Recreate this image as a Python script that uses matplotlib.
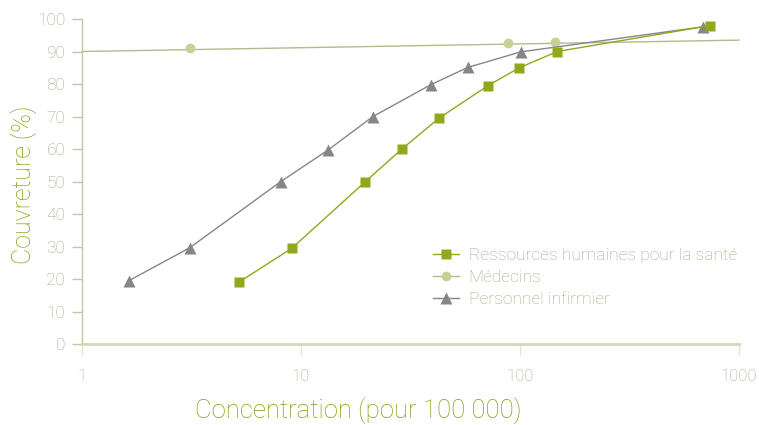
import matplotlib
matplotlib.use("Agg")
import matplotlib.pyplot as plt
from matplotlib.lines import Line2D

# concentration (per 100 000) vs coverage (%)
rhs_x = [5.2, 9.1, 19.7, 28.9, 42.7, 71.4, 99.3, 148, 739]
rhs_y = [19, 29.5, 50, 60, 69.5, 79.5, 85, 90, 98]

inf_x = [1.64, 3.1, 8.1, 13.3, 21.3, 39.2, 57.7, 101, 687]
inf_y = [19.5, 29.6, 50, 59.7, 70, 79.8, 85.1, 89.9, 97.6]

med_x = [3.11, 87.9, 145]
med_y = [91, 92.5, 92.9]
# straight trend through the doctors' points
med_trend_x = [1, 1000]
med_trend_y = [90, 93.5]

labels = ["Ressources humaines pour la santé", "Médecins", "Personnel infirmier"]
yticks = list(range(0, 101, 10))
xticks = [1, 10, 100, 1000]
xticklabels = ["1", "10", "100", "1000"]

GREEN = "#8fa81c"
LABEL = "#83a00c"
LIGHT = "#c6d097"
MEDLINE = "#b3ba8c"
GREY = "#86858a"
TICKTXT = "#a2a985"
AXIS = "#d3d8b6"

plt.rcParams["font.family"] = ["Roboto", "DejaVu Sans"]
plt.rcParams["font.weight"] = "light"
plt.rcParams["axes.labelweight"] = "light"

fig = plt.figure(figsize=(7.59, 4.25), dpi=100)
ax = fig.add_axes([82 / 759, 1 - 344 / 425, 657 / 759, 325 / 425])

ax.plot(med_trend_x, med_trend_y, color=MEDLINE, lw=1.0, clip_on=False, zorder=2)
ax.plot(med_x, med_y, "o", color=LIGHT, ms=7, mec="none", clip_on=False, zorder=3)
ax.plot(inf_x, inf_y, color=GREY, lw=1.0, marker="^", ms=8, mec="none",
        clip_on=False, zorder=4)
ax.plot(rhs_x, rhs_y, color=GREEN, lw=1.0, marker="s", ms=6.5, mec="none",
        clip_on=False, zorder=5)

ax.set_xscale("log")
ax.set_xlim(1, 1000)
ax.set_ylim(0, 100)
ax.set_xticks(xticks)
ax.set_xticklabels(xticklabels)
ax.xaxis.set_minor_locator(matplotlib.ticker.NullLocator())
ax.set_yticks(yticks)

for s in ["top", "right"]:
    ax.spines[s].set_visible(False)
ax.spines["left"].set_color("#c3c8a3")
ax.spines["left"].set_linewidth(1.0)
ax.spines["bottom"].set_color(AXIS)
ax.spines["bottom"].set_linewidth(2.0)

ax.tick_params(axis="y", length=7, width=1.0, color="#c3c8a3",
               labelcolor=TICKTXT, labelsize=12.5, pad=5)
ax.tick_params(axis="x", length=8, width=1.0, color="#e2e6cc",
               labelcolor=TICKTXT, labelsize=12, pad=10)

ax.set_ylabel("Couvreture (%)", color=LABEL, fontsize=18)
ax.yaxis.set_label_coords(-0.069, 0.49)
ax.set_xlabel("Concentration (pour 100 000)", color=LABEL, fontsize=18.5)
ax.xaxis.set_label_coords(0.42, -0.165)

handles = [
    Line2D([], [], color=GREEN, lw=1.0, marker="s", ms=6.5, mec="none"),
    Line2D([], [], color=MEDLINE, lw=1.0, marker="o", ms=7, mfc=LIGHT, mec="none"),
    Line2D([], [], color=GREY, lw=1.0, marker="^", ms=8, mec="none"),
]
leg = ax.legend(handles, labels, loc="upper left",
                bbox_to_anchor=(433 / 759, 1 - 248 / 425),
                bbox_transform=fig.transFigure, frameon=False,
                fontsize=12.5, handlelength=1.5, handletextpad=0.55,
                labelspacing=0.38, borderaxespad=0, borderpad=0)
for t in leg.get_texts():
    t.set_color(TICKTXT)

fig.savefig("out.png", dpi=100)
